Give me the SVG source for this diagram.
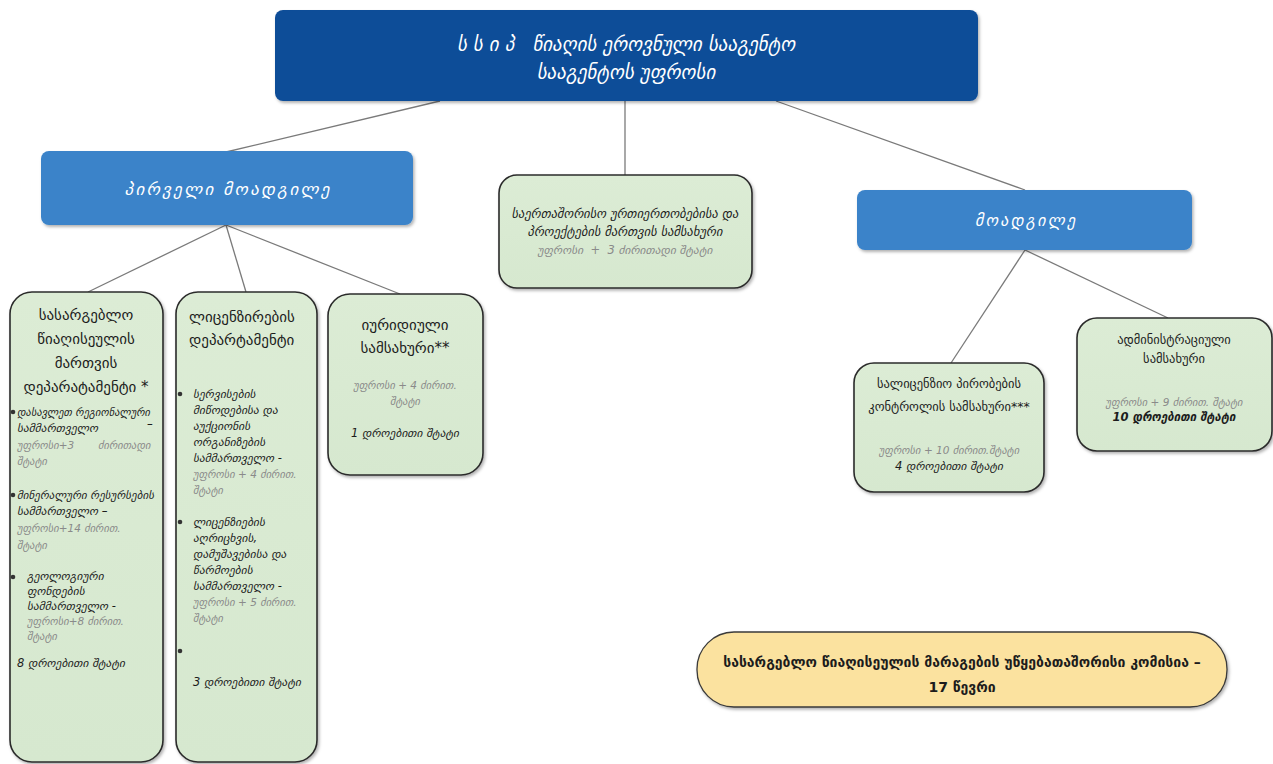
<svg xmlns="http://www.w3.org/2000/svg" width="1273" height="764" viewBox="0 0 1273 764">
<defs>
<linearGradient id="g" x1="0" y1="0" x2="0" y2="1"><stop offset="0" stop-color="#dcecd5"/><stop offset="1" stop-color="#d6e8cf"/></linearGradient>
<filter id="sh" x="-10%" y="-10%" width="125%" height="125%"><feDropShadow dx="1.5" dy="2" stdDeviation="1.5" flood-color="#000" flood-opacity="0.3"/></filter>
<style>
text{font-family:"DejaVu Sans","Noto Sans",sans-serif;white-space:pre}
.dk{fill:#0f4e98}
.bl{fill:#3a83c9}
.gr{fill:url(#g);stroke:#2b2b2b;stroke-width:1.6}
.yl{fill:#fbe29f;stroke:#3a3a3a;stroke-width:1.3}
.wt{fill:#fff;font-style:italic}
.hd{fill:#1c1c1c}
.it{fill:#1c1c1c;font-style:italic}
.nm{fill:#1c1c1c}
.gy{fill:#8a8a8a;font-style:italic}
.c{text-anchor:middle}
.ln{stroke:#7a7a7a;stroke-width:1.3;fill:none}
</style>
</defs>
<rect width="1273" height="764" fill="#fff"/>
<g id="connectors">
<line class="ln" x1="440" y1="101" x2="226" y2="152"/>
<line class="ln" x1="625" y1="101" x2="625" y2="175"/>
<line class="ln" x1="776" y1="101" x2="1025" y2="190"/>
<line class="ln" x1="226" y1="225" x2="88" y2="292"/>
<line class="ln" x1="226" y1="225" x2="246" y2="292"/>
<line class="ln" x1="226" y1="225" x2="400" y2="294"/>
<line class="ln" x1="1025" y1="250" x2="951" y2="363"/>
<line class="ln" x1="1025" y1="250" x2="1168" y2="318"/>
</g>
<g id="head">
<rect class="dk" x="275" y="10" width="703" height="91" rx="8" filter="url(#sh)"/>
<text class="wt c" x="626" y="51" font-size="19">ს ს ი პ   წიაღის ეროვნული სააგენტო</text>
<text class="wt c" x="626" y="79" font-size="19">სააგენტოს უფროსი</text>
</g>
<g id="deputy1">
<rect class="bl" x="41" y="151" width="372" height="74" rx="8" filter="url(#sh)"/>
<text class="wt c" x="227" y="195" font-size="17" textLength="205" lengthAdjust="spacing">პ ი რ ვ ე ლ ი   მ ო ა დ გ ი ლ ე</text>
</g>
<g id="intl">
<rect class="gr" x="499" y="175" width="253" height="113" rx="18" filter="url(#sh)"/>
<text class="it c" x="625" y="218" font-size="12.5">საერთაშორისო ურთიერთობებისა და</text>
<text class="it c" x="625" y="236" font-size="12.5">პროექტების მართვის სამსახური</text>
<text class="gy c" x="625" y="254" font-size="11.5">უფროსი  +  3 ძირითადი შტატი</text>
</g>
<g id="deputy2">
<rect class="bl" x="857" y="190" width="335" height="60" rx="8" filter="url(#sh)"/>
<text class="wt c" x="1025" y="226" font-size="16" textLength="100" lengthAdjust="spacing">მ ო ა დ გ ი ლ ე</text>
</g>
<g id="mineral">
<rect class="gr" x="10" y="292" width="153" height="470" rx="22" filter="url(#sh)"/>
<text class="hd c" x="86" y="320" font-size="15">სასარგებლო</text>
<text class="hd c" x="86" y="344" font-size="15">წიაღისეულის</text>
<text class="hd c" x="86" y="368" font-size="15">მართვის</text>
<text class="hd c" x="86" y="392" font-size="15">დეპარატამენტი *</text>
<circle cx="13" cy="412" r="2.3" fill="#333"/>
<text class="it" x="17" y="416" font-size="11.5" textLength="133" lengthAdjust="spacingAndGlyphs">დასავლეთ რეგიონალური</text>
<text class="it" x="17" y="432" font-size="11.5">სამმართველო</text>
<text class="it" x="147" y="428" font-size="11.5">–</text>
<text class="gy" x="17" y="449" font-size="10.5">უფროსი+3</text>
<text class="gy" x="98" y="449" font-size="10.5">ძირითადი</text>
<text class="gy" x="17" y="465" font-size="10.5">შტატი</text>
<circle cx="13" cy="495" r="2.3" fill="#333"/>
<text class="it" x="17" y="499" font-size="11.5" textLength="137" lengthAdjust="spacingAndGlyphs">მინერალური რესურსების</text>
<text class="it" x="17" y="515" font-size="11.5">სამმართველო –</text>
<text class="gy" x="17" y="532" font-size="10.5">უფროსი+14 ძირით.</text>
<text class="gy" x="17" y="549" font-size="10.5">შტატი</text>
<circle cx="13" cy="577" r="2.3" fill="#333"/>
<text class="it" x="27" y="580" font-size="11.5">გეოლოგიური</text>
<text class="it" x="27" y="595" font-size="11.5">ფონდების</text>
<text class="it" x="27" y="610" font-size="11.5">სამმართველო -</text>
<text class="gy" x="27" y="625" font-size="10.5">უფროსი+8 ძირით.</text>
<text class="gy" x="27" y="640" font-size="10.5">შტატი</text>
<text class="it" x="17" y="667" font-size="11.5">8 დროებითი შტატი</text>
</g>
<g id="license">
<rect class="gr" x="176" y="292" width="141" height="470" rx="22" filter="url(#sh)"/>
<text class="hd" x="189" y="322" font-size="15">ლიცენზირების</text>
<text class="hd" x="189" y="345" font-size="15">დეპარტამენტი</text>
<circle cx="180" cy="394" r="2.3" fill="#333"/>
<text class="it" x="193" y="398" font-size="11.5">სერვისების</text>
<text class="it" x="193" y="414" font-size="11.5">მიწოდებისა და</text>
<text class="it" x="193" y="430" font-size="11.5">აუქციონის</text>
<text class="it" x="193" y="446" font-size="11.5">ორგანიზების</text>
<text class="it" x="193" y="462" font-size="11.5">სამმართველო -</text>
<text class="gy" x="193" y="478" font-size="10.5">უფროსი + 4 ძირით.</text>
<text class="gy" x="193" y="494" font-size="10.5">შტატი</text>
<circle cx="180" cy="522" r="2.3" fill="#333"/>
<text class="it" x="193" y="526" font-size="11.5">ლიცენზიების</text>
<text class="it" x="193" y="542" font-size="11.5">აღრიცხვის,</text>
<text class="it" x="193" y="558" font-size="11.5">დამუშავებისა და</text>
<text class="it" x="193" y="574" font-size="11.5">წარმოების</text>
<text class="it" x="193" y="590" font-size="11.5">სამმართველო -</text>
<text class="gy" x="193" y="606" font-size="10.5">უფროსი + 5 ძირით.</text>
<text class="gy" x="193" y="622" font-size="10.5">შტატი</text>
<circle cx="180" cy="651" r="2.3" fill="#333"/>
<text class="it" x="193" y="686" font-size="11.5">3 დროებითი შტატი</text>
</g>
<g id="legal">
<rect class="gr" x="328" y="294" width="155" height="181" rx="22" filter="url(#sh)"/>
<text class="hd c" x="405" y="330" font-size="15">იურიდიული</text>
<text class="hd c" x="405" y="353" font-size="15">სამსახური**</text>
<text class="gy c" x="405" y="389" font-size="10.5">უფროსი + 4 ძირით.</text>
<text class="gy c" x="405" y="405" font-size="10.5">შტატი</text>
<text class="it c" x="405" y="437" font-size="11.5">1 დროებითი შტატი</text>
</g>
<g id="control">
<rect class="gr" x="854" y="363" width="190" height="129" rx="20" filter="url(#sh)"/>
<text class="nm c" x="949" y="388" font-size="12.5">სალიცენზიო პირობების</text>
<text class="nm c" x="949" y="411" font-size="12.5">კონტროლის სამსახური***</text>
<text class="gy c" x="949" y="454" font-size="10.5">უფროსი + 10 ძირით.შტატი</text>
<text class="it c" x="949" y="470" font-size="11.5">4 დროებითი შტატი</text>
</g>
<g id="admin">
<rect class="gr" x="1077" y="318" width="195" height="133" rx="20" filter="url(#sh)"/>
<text class="nm c" x="1174" y="344" font-size="12.5">ადმინისტრაციული</text>
<text class="nm c" x="1174" y="363" font-size="12.5">სამსახური</text>
<text class="gy c" x="1174" y="406" font-size="10.5">უფროსი + 9 ძირით. შტატი</text>
<text class="it c" x="1174" y="421" font-size="11.5" font-weight="bold">10 დროებითი შტატი</text>
</g>
<g id="commission">
<rect class="yl" x="697" y="632" width="530" height="75" rx="37" filter="url(#sh)"/>
<text class="nm c" x="962" y="667" font-size="14" font-weight="bold">სასარგებლო წიაღისეულის მარაგების უწყებათაშორისი კომისია –</text>
<text class="nm c" x="962" y="692" font-size="14" font-weight="bold">17 წევრი</text>
</g>
</svg>
